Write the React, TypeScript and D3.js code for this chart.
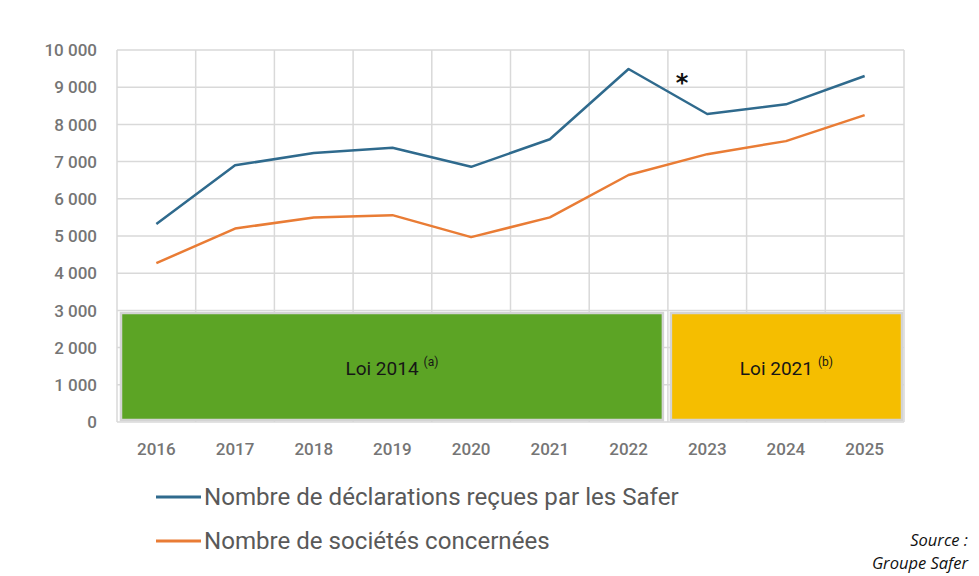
import React from "react";
import * as d3 from "d3";

const years = ["2016", "2017", "2018", "2019", "2020", "2021", "2022", "2023", "2024", "2025"];
const declarations = [5320, 6900, 7230, 7370, 6860, 7600, 9490, 8280, 8540, 9300];
const societes = [4270, 5200, 5500, 5560, 4970, 5500, 6640, 7200, 7550, 8250];
const yTicks = [0, 1000, 2000, 3000, 4000, 5000, 6000, 7000, 8000, 9000, 10000];
const periods = [
  { label: "Loi 2014", sup: "(a)", from: "2016", to: "2022", top: 2930, color: "#5ca425" },
  { label: "Loi 2021", sup: "(b)", from: "2023", to: "2025", top: 2930, color: "#f5be00" },
];
const legendItems = [
  { label: "Nombre de déclarations reçues par les Safer", color: "#2f6a8d" },
  { label: "Nombre de sociétés concernées", color: "#e97c35" },
];

const W = 979;
const H = 576;
const left = 117;
const right = 904;
const top = 50;
const bottom = 422;

export default function App() {
  const x = d3.scaleBand<string>().domain(years).range([left, right]).paddingInner(0).paddingOuter(0);
  const y = d3.scaleLinear().domain([0, 10000]).range([bottom, top]);
  const cx = (yr: string) => (x(yr) as number) + x.bandwidth() / 2;
  const line = d3
    .line<number>()
    .x((_, i) => cx(years[i]))
    .y((d) => y(d));
  const fmt = (v: number) => d3.format(",")(v).replace(/,/g, " ");
  const gridX = years.map((yr) => x(yr) as number).concat([right]);

  return (
    <svg width={W} height={H} style={{ position: "absolute", left: 0, top: 0, background: "#fff" }}>
      <rect x={0} y={0} width={W} height={H} fill="#fff" />
      {yTicks.map((t) => (
        <line key={"gy" + t} x1={left} x2={right} y1={y(t)} y2={y(t)} stroke="#d9d9d9" strokeWidth={1.5} />
      ))}
      {gridX.map((gx, i) => (
        <line key={"gx" + i} x1={gx} x2={gx} y1={top} y2={bottom} stroke="#d9d9d9" strokeWidth={1.5} />
      ))}
      {yTicks.map((t) => (
        <text
          key={"ty" + t}
          x={97}
          y={y(t)}
          dy="0.36em"
          textAnchor="end"
          fontFamily="Roboto, 'Noto Sans', sans-serif"
          fontSize={17}
          fontWeight={500}
          fill="#757575"
        >
          {fmt(t)}
        </text>
      ))}
      {years.map((yr) => (
        <text
          key={"tx" + yr}
          x={cx(yr)}
          y={449}
          dy="0.36em"
          textAnchor="middle"
          fontFamily="Roboto, 'Noto Sans', sans-serif"
          fontSize={17}
          fontWeight={500}
          fill="#757575"
        >
          {yr}
        </text>
      ))}
      {periods.map((p, i) => {
        const x0 = (x(p.from) as number) + (i === 0 ? 4 : 3);
        const x1 = (x(p.to) as number) + x.bandwidth() - (i === 0 ? 5 : 2);
        const y0 = y(p.top);
        const y1 = y(0) - 2;
        return (
          <g key={p.label}>
            <rect x={x0} y={y0} width={x1 - x0} height={y1 - y0} fill={p.color} stroke="#d4d4d4" strokeWidth={2.5} />
            <text
              x={(x0 + x1) / 2}
              y={(y0 + y1) / 2 + 2}
              dy="0.35em"
              textAnchor="middle"
              fontFamily="Roboto, 'Noto Sans', sans-serif"
              fontSize={19}
              fill="#161616"
            >
              {p.label}
              <tspan fontSize={12} dy="-0.8em" dx="5">
                {p.sup}
              </tspan>
            </text>
          </g>
        );
      })}
      <path d={line(societes) || ""} fill="none" stroke={legendItems[1].color} strokeWidth={2.5} strokeLinejoin="round" />
      <path d={line(declarations) || ""} fill="none" stroke={legendItems[0].color} strokeWidth={2.5} strokeLinejoin="round" />
      <text x={682} y={91} textAnchor="middle" fontFamily="'DejaVu Sans', sans-serif" fontWeight="bold" fontSize={24} fill="#111">
        *
      </text>
      {legendItems.map((l, i) => (
        <g key={l.label}>
          <line x1={156} x2={201} y1={497 + i * 44} y2={497 + i * 44} stroke={l.color} strokeWidth={3} />
          <text
            x={204}
            y={497 + i * 44}
            dy="0.35em"
            fontFamily="Roboto, 'Noto Sans', sans-serif"
            fontSize={24.1}
            fill="#595959"
          >
            {l.label}
          </text>
        </g>
      ))}
      <text x={968} y={546} textAnchor="end" fontFamily="'Open Sans', sans-serif" fontStyle="italic" fontSize={16.5} fill="#111">
        Source :
      </text>
      <text x={968} y={569} textAnchor="end" fontFamily="'Open Sans', sans-serif" fontStyle="italic" fontSize={16.5} fill="#111">
        Groupe Safer
      </text>
    </svg>
  );
}
